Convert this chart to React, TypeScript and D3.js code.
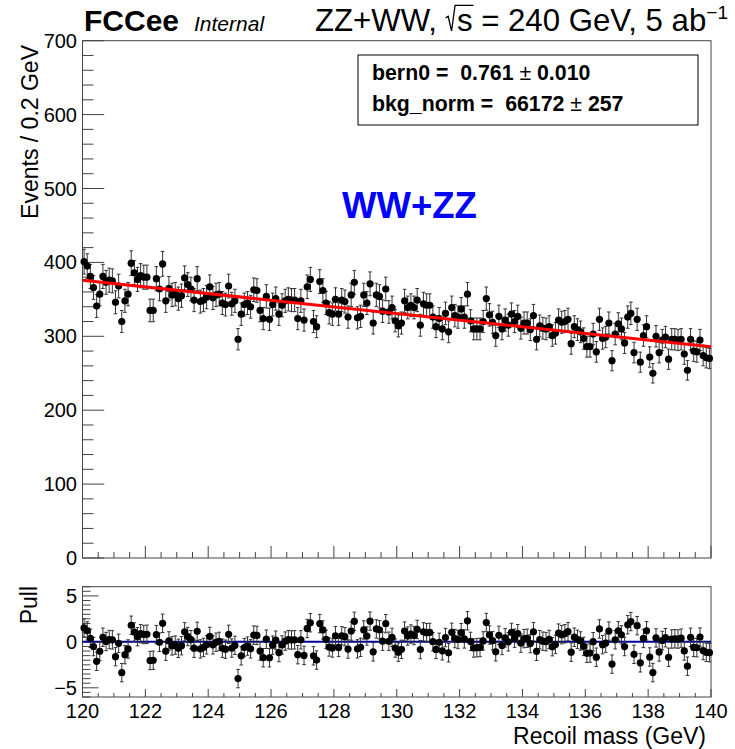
import React, { useEffect, useRef } from 'react';
import * as d3 from 'd3';

// ---- data ----
const xMin = 120;
const xMax = 140;
const nBins = 200;
const counts: number[] = [
  401, 395, 381, 366, 341, 357, 381, 373, 376, 375,
  346, 368, 320, 348, 357, 399, 386, 377, 382, 380,
  380, 335, 335, 378, 364, 398, 348, 365, 356, 357,
  351, 355, 379, 370, 364, 349, 378, 347, 349, 353,
  367, 352, 356, 357, 345, 343, 368, 344, 348, 296,
  330, 343, 345, 340, 363, 362, 335, 324, 354, 323,
  343, 351, 330, 342, 348, 350, 349, 349, 324, 348,
  322, 367, 377, 320, 313, 374, 362, 345, 332, 330,
  350, 330, 349, 347, 326, 356, 373, 325, 327, 356,
  345, 371, 318, 356, 354, 334, 364, 333, 339, 321,
  314, 318, 348, 339, 342, 339, 349, 315, 344, 342,
  342, 326, 313, 324, 310, 331, 306, 339, 328, 326,
  337, 326, 357, 321, 310, 310, 310, 320, 351, 329,
  319, 301, 327, 310, 322, 315, 330, 320, 327, 311,
  318, 318, 309, 328, 296, 314, 311, 310, 313, 301,
  304, 322, 319, 320, 323, 290, 313, 309, 306, 297,
  286, 286, 303, 279, 323, 297, 299, 318, 267, 303,
  317, 310, 291, 326, 331, 278, 323, 265, 301, 313,
  272, 250, 300, 278, 295, 299, 269, 296, 296, 295,
  296, 276, 254, 296, 280, 279, 295, 274, 271, 270,
];
const bern0 = 0.761;
const bern0Err = 0.01;
const bkgNorm = 66172;
const bkgNormErr = 257;
const eventWeight = 0.7; // MC event weight (error = sqrt(w*N))
const yTicksMain = [0, 100, 200, 300, 400, 500, 600, 700];
const pullTicks = [-5, 0, 5];
const xTickLabels = [120, 122, 124, 126, 128, 130, 132, 134, 136, 138, 140];

const FONT = "'Liberation Sans', Arial, Helvetica, sans-serif";

export default function App() {
  const ref = useRef<SVGSVGElement>(null);

  useEffect(() => {
    const svg = d3.select(ref.current as SVGSVGElement);
    svg.selectAll('*').remove();

    const L = 82.5, R = 711, T = 40.7, B = 558, PT = 586.7, PB = 697;
    const x = d3.scaleLinear().domain([xMin, xMax]).range([L, R]);
    const y = d3.scaleLinear().domain([0, 700]).range([B, T]);
    const yp = d3.scaleLinear().domain([-6, 6]).range([PB, PT]);
    const binW = (xMax - xMin) / nBins;
    const perBin = bkgNorm / nBins;
    const f0 = (2 * perBin) / (1 + bern0);
    const f1 = f0 * bern0;
    const fit = (xv: number) => f0 + ((f1 - f0) * (xv - xMin)) / (xMax - xMin);

    const pts = counts.map((c, i) => {
      const xc = xMin + (i + 0.5) * binW;
      const err = Math.sqrt(eventWeight * c);
      return { xc, c, err, pull: (c - fit(xc)) / err };
    });

    svg.append('rect').attr('width', 735).attr('height', 749).attr('fill', '#fff');

    // ---- main panel ----
    const main = svg.append('g');
    main.append('rect').attr('x', L).attr('y', T).attr('width', R - L).attr('height', B - T)
      .attr('fill', 'none').attr('stroke', '#444').attr('stroke-width', 1);

    for (let v = 0; v <= 700; v += 20) {
      const major = v % 100 === 0;
      main.append('line').attr('x1', L).attr('x2', L + (major ? 21.7 : 11))
        .attr('y1', y(v)).attr('y2', y(v)).attr('stroke', '#444');
    }
    main.selectAll('text.yl').data(yTicksMain).enter().append('text')
      .attr('x', 77).attr('y', d => y(d) + 7).attr('text-anchor', 'end')
      .attr('font-family', FONT).attr('font-size', 20).text(d => String(d));
    for (let k = 0; k <= 40; k++) {
      const v = xMin + k * 0.5;
      const major = k % 4 === 0;
      main.append('line').attr('x1', x(v)).attr('x2', x(v))
        .attr('y1', B).attr('y2', B - (major ? 12 : 6)).attr('stroke', '#444');
    }

    const eb = main.append('g').attr('stroke', '#333').attr('stroke-width', 1);
    pts.forEach(p => {
      const px = x(p.xc);
      eb.append('line').attr('x1', px).attr('x2', px).attr('y1', y(p.c - p.err)).attr('y2', y(p.c + p.err));
      eb.append('line').attr('x1', px - 1.8).attr('x2', px + 1.8).attr('y1', y(p.c - p.err)).attr('y2', y(p.c - p.err));
      eb.append('line').attr('x1', px - 1.8).attr('x2', px + 1.8).attr('y1', y(p.c + p.err)).attr('y2', y(p.c + p.err));
    });
    main.append('g').selectAll('circle').data(pts).enter().append('circle')
      .attr('cx', d => x(d.xc)).attr('cy', d => y(d.c)).attr('r', 3.6).attr('fill', '#000');

    const line = d3.line<number>().x(d => x(d)).y(d => y(fit(d)));
    main.append('path').attr('d', line([xMin, xMax]) as string).attr('stroke', '#ff0000')
      .attr('stroke-width', 3).attr('fill', 'none');

    main.append('text').attr('transform', 'translate(38,45) rotate(-90)').attr('text-anchor', 'end')
      .attr('font-family', FONT).attr('font-size', 23).text('Events / 0.2 GeV');

    main.append('rect').attr('x', 358).attr('y', 55).attr('width', 340).attr('height', 70)
      .attr('fill', '#fff').attr('stroke', '#000').attr('stroke-width', 1);
    const leg1 = main.append('text').attr('x', 372).attr('y', 80).attr('font-family', FONT)
      .attr('font-size', 21.3).attr('font-weight', 'bold').style('white-space', 'pre');
    leg1.append('tspan').text(`bern0 =  ${bern0.toFixed(3)} `);
    leg1.append('tspan').attr('font-weight', 'normal').text('±');
    leg1.append('tspan').text(` ${bern0Err.toFixed(3)}`);
    const leg2 = main.append('text').attr('x', 372).attr('y', 111).attr('font-family', FONT)
      .attr('font-size', 21.3).attr('font-weight', 'bold').style('white-space', 'pre');
    leg2.append('tspan').text(`bkg_norm =  ${bkgNorm} `);
    leg2.append('tspan').attr('font-weight', 'normal').text('±');
    leg2.append('tspan').text(` ${bkgNormErr}`);

    main.append('text').attr('x', 342).attr('y', 218).attr('font-family', FONT).attr('font-size', 36.5)
      .attr('font-weight', 'bold').attr('fill', '#0000ff').text('WW+ZZ');

    // ---- pull panel ----
    const pull = svg.append('g');
    pull.append('rect').attr('x', L).attr('y', PT).attr('width', R - L).attr('height', PB - PT)
      .attr('fill', 'none').attr('stroke', '#444').attr('stroke-width', 1);
    for (let k = -12; k <= 12; k++) {
      const v = k * 0.5;
      const major = k % 10 === 0;
      pull.append('line').attr('x1', L).attr('x2', L + (major ? 16 : 8))
        .attr('y1', yp(v)).attr('y2', yp(v)).attr('stroke', '#444');
    }
    pull.selectAll('text.pl').data(pullTicks).enter().append('text')
      .attr('x', 77).attr('y', d => yp(d) + 7).attr('text-anchor', 'end')
      .attr('font-family', FONT).attr('font-size', 20).text(d => (d < 0 ? '\u2212' + Math.abs(d) : String(d)));
    for (let k = 0; k <= 40; k++) {
      const v = xMin + k * 0.5;
      const major = k % 4 === 0;
      pull.append('line').attr('x1', x(v)).attr('x2', x(v))
        .attr('y1', PB).attr('y2', PB - (major ? 8 : 4)).attr('stroke', '#444');
    }
    pull.selectAll('text.xl').data(xTickLabels).enter().append('text')
      .attr('x', d => x(d)).attr('y', 718).attr('text-anchor', 'middle')
      .attr('font-family', FONT).attr('font-size', 20).text(d => String(d));

    pull.append('line').attr('x1', L).attr('x2', R).attr('y1', yp(0)).attr('y2', yp(0))
      .attr('stroke', '#000099').attr('stroke-width', 2);
    const peb = pull.append('g').attr('stroke', '#333').attr('stroke-width', 1);
    pts.forEach(p => {
      const px = x(p.xc);
      peb.append('line').attr('x1', px).attr('x2', px).attr('y1', yp(p.pull - 1)).attr('y2', yp(p.pull + 1));
      peb.append('line').attr('x1', px - 1.8).attr('x2', px + 1.8).attr('y1', yp(p.pull - 1)).attr('y2', yp(p.pull - 1));
      peb.append('line').attr('x1', px - 1.8).attr('x2', px + 1.8).attr('y1', yp(p.pull + 1)).attr('y2', yp(p.pull + 1));
    });
    pull.append('g').selectAll('circle').data(pts).enter().append('circle')
      .attr('cx', d => x(d.xc)).attr('cy', d => yp(d.pull)).attr('r', 3.6).attr('fill', '#000');

    pull.append('text').attr('transform', 'translate(37,586) rotate(-90)').attr('text-anchor', 'end')
      .attr('font-family', FONT).attr('font-size', 23).text('Pull');
    pull.append('text').attr('x', 706).attr('y', 744).attr('text-anchor', 'end')
      .attr('font-family', FONT).attr('font-size', 23).text('Recoil mass (GeV)');

    // ---- header ----
    svg.append('text').attr('x', 84).attr('y', 31).attr('font-family', FONT).attr('font-size', 30)
      .attr('font-weight', 'bold').text('FCCee');
    svg.append('text').attr('x', 194).attr('y', 31).attr('font-family', FONT).attr('font-size', 21)
      .attr('font-style', 'italic').text('Internal');

    const hg = svg.append('g');
    const fs = 31.2;
    const by = 31;
    let cx = 0;
    const addText = (s: string, size = fs, dy = 0) => {
      const t = hg.append('text').attr('x', cx).attr('y', by + dy).attr('font-family', FONT)
        .attr('font-size', size).style('white-space', 'pre').text(s);
      const w = (t.node() as SVGTextElement).getComputedTextLength();
      cx += w;
      return w;
    };
    addText('ZZ+WW, ');
    const rx = cx;
    cx += fs * 0.36;
    const sx = cx;
    const sw = addText('s');
    hg.append('path')
      .attr('d', `M${rx},${by - fs * 0.42} L${rx + fs * 0.08},${by - fs * 0.47} L${rx + fs * 0.19},${by} L${rx + fs * 0.3},${by - fs * 0.82} L${sx + sw + 1},${by - fs * 0.82}`)
      .attr('fill', 'none').attr('stroke', '#000').attr('stroke-width', 1.3);
    addText(' = 240 GeV, 5 ab');
    addText('\u22121', 19, -12);
    hg.attr('transform', `translate(${728 - cx},0)`);
  }, []);

  return (
    <svg ref={ref} width={735} height={749} style={{ position: 'absolute', left: 0, top: 0 }} />
  );
}
